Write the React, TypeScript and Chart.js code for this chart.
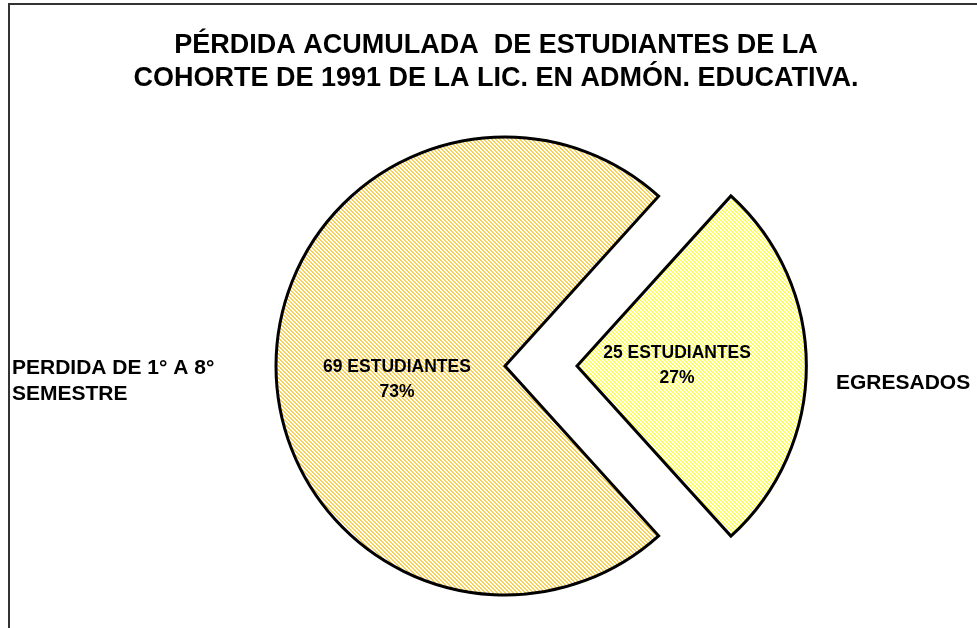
import React, { useEffect, useRef } from 'react';
import { Chart, registerables } from 'chart.js';

Chart.register(...registerables);

// ---- data ----
const categories = ['PERDIDA DE 1° A 8° SEMESTRE', 'EGRESADOS'];
const categoryLabelLines = [['PERDIDA DE 1° A 8°', 'SEMESTRE'], ['EGRESADOS']];
const students = [69, 25];
const unitLabel = 'ESTUDIANTES';
const titleLines = [
  'PÉRDIDA ACUMULADA  DE ESTUDIANTES DE LA',
  'COHORTE DE 1991 DE LA LIC. EN ADMÓN. EDUCATIVA.',
];

// ---- style ----
const FONT = '"Liberation Sans", Arial, Helvetica, sans-serif';
const sliceColors = ['#F7D158', '#FFFF5A'];
const explodePx = [0, 72];
const labelNudgeX = [-5, -3];
const labelNudgeY = [14, 0];

function makePattern(color: string): CanvasPattern | string {
  const c = document.createElement('canvas');
  c.width = 4;
  c.height = 4;
  const g = c.getContext('2d');
  if (!g) return color;
  g.fillStyle = '#FFFFFF';
  g.fillRect(0, 0, 4, 4);
  g.fillStyle = color;
  for (let y = 0; y < 4; y++) {
    for (let x = 0; x < 4; x++) {
      const d = (((x - y) % 4) + 4) % 4;
      if (d === 0 || d === 1) g.fillRect(x, y, 1, 1);
    }
  }
  const p = g.createPattern(c, 'repeat');
  return p || color;
}

const framePlugin = {
  id: 'frame',
  beforeDraw(chart: any) {
    const ctx = chart.ctx;
    ctx.save();
    ctx.fillStyle = '#FFFFFF';
    ctx.fillRect(0, 0, chart.width, chart.height);
    ctx.strokeStyle = '#333333';
    ctx.lineWidth = 2;
    ctx.strokeRect(9, 4, chart.width + 50, chart.height + 50);
    // title
    ctx.fillStyle = '#000000';
    ctx.font = `bold 27px ${FONT}`;
    ctx.textAlign = 'center';
    ctx.textBaseline = 'middle';
    titleLines.forEach((t, k) => ctx.fillText(t, 496, 46 + k * 33));
    ctx.restore();
  },
};

const labelsPlugin = {
  id: 'sliceLabels',
  afterDraw(chart: any) {
    const ctx = chart.ctx;
    const meta = chart.getDatasetMeta(0);
    const data = chart.data.datasets[0].data as number[];
    const total = data.reduce((a, b) => a + b, 0);
    ctx.save();
    ctx.fillStyle = '#000000';
    ctx.textBaseline = 'middle';
    // inside labels
    ctx.font = `bold 17.5px ${FONT}`;
    ctx.textAlign = 'center';
    meta.data.forEach((arc: any, i: number) => {
      const mid = (arc.startAngle + arc.endAngle) / 2;
      const off = explodePx[i];
      const r = arc.outerRadius;
      const f = 0.45;
      const cx = arc.x + Math.cos(mid) * (off + r * f) + labelNudgeX[i];
      const cy = arc.y + Math.sin(mid) * (off + r * f) + labelNudgeY[i];
      const pct = Math.round((data[i] / total) * 100);
      ctx.fillText(`${data[i]} ${unitLabel}`, cx, cy - 12.5);
      ctx.fillText(`${pct}%`, cx, cy + 12.5);
    });
    // category labels outside
    ctx.font = `bold 21px ${FONT}`;
    ctx.textAlign = 'left';
    const arc0 = meta.data[0] as any;
    const cy = arc0.y;
    const left = categoryLabelLines[0];
    left.forEach((t, k) => ctx.fillText(t, 12, cy + 2 + k * 26));
    const right = categoryLabelLines[1];
    right.forEach((t, k) => ctx.fillText(t, 836, cy + 17 + k * 26));
    ctx.restore();
  },
};

export default function App() {
  const ref = useRef<HTMLCanvasElement | null>(null);
  useEffect(() => {
    document.body.style.margin = '0';
    const canvas = ref.current;
    if (!canvas) return;
    const total = students.reduce((a, b) => a + b, 0);
    const rotation = 90 + (students[1] / total) * 180;
    const chart = new Chart(canvas, {
      type: 'pie',
      data: {
        labels: categories,
        datasets: [
          {
            data: students,
            backgroundColor: sliceColors.map(makePattern) as any,
            borderColor: '#000000',
            borderWidth: 3,
            borderJoinStyle: 'miter',
            // Chart.js translates an arc by offset / 4
            offset: explodePx.map((p) => p * 4),
            hoverOffset: 0,
          },
        ],
      },
      options: {
        responsive: false,
        animation: false,
        devicePixelRatio: 1,
        rotation,
        radius: 229,
        layout: { padding: { left: 200, right: 167, top: 117.75, bottom: 13.75 } },
        plugins: {
          legend: { display: false },
          tooltip: { enabled: false },
          title: { display: false },
        },
      },
      plugins: [framePlugin, labelsPlugin],
    });
    return () => chart.destroy();
  }, []);
  return <canvas ref={ref} width={977} height={628} style={{ display: 'block' }} />;
}
